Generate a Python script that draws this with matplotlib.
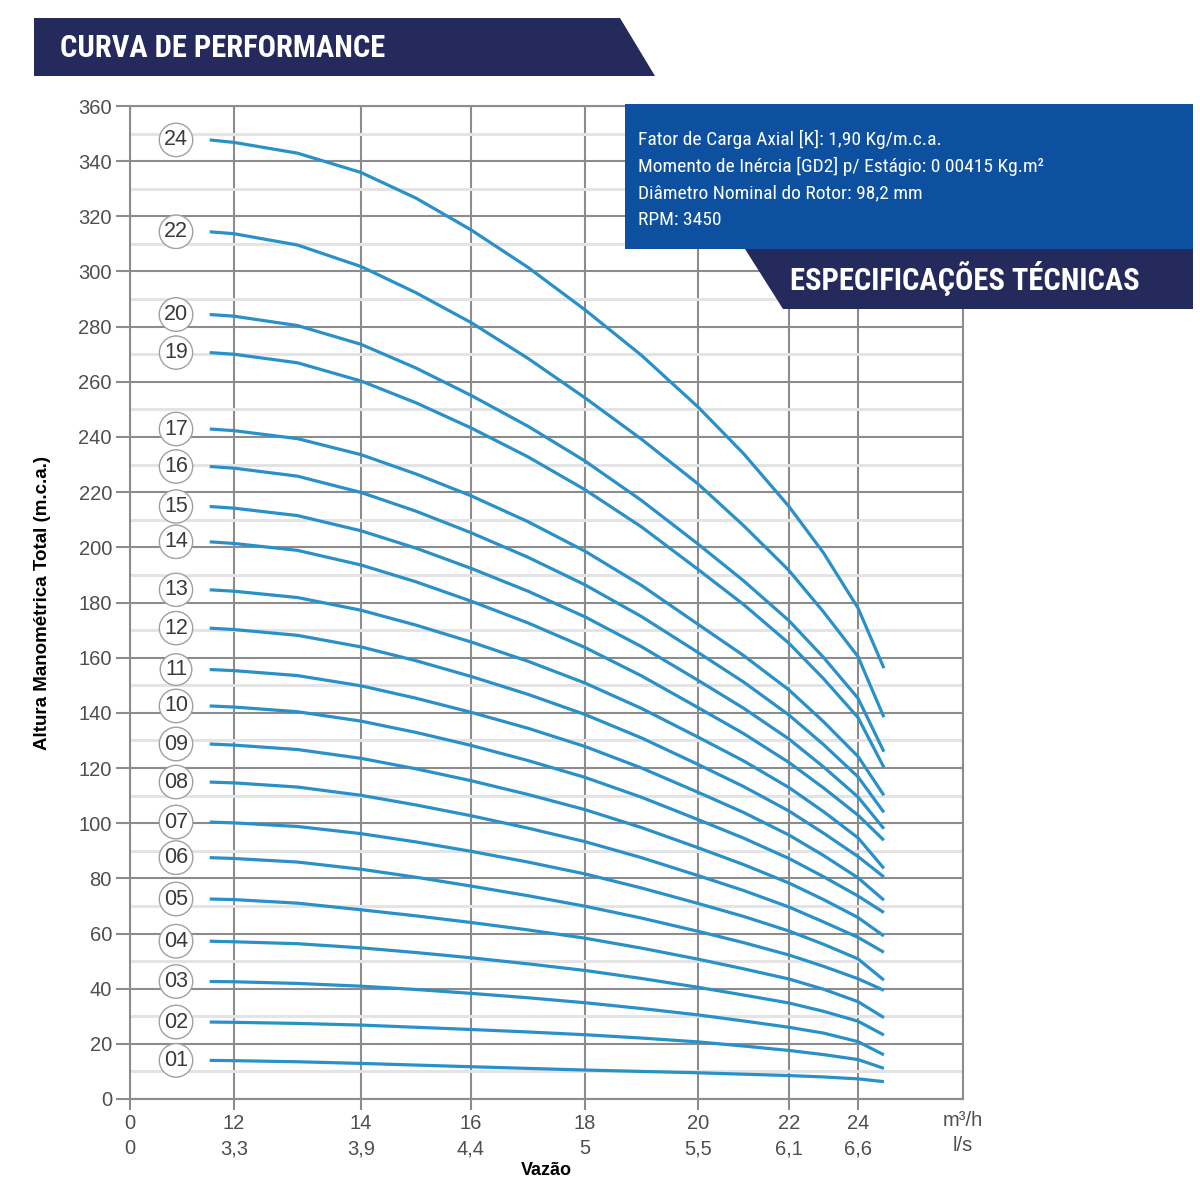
import numpy as np
import matplotlib
matplotlib.use("Agg")
import matplotlib.pyplot as plt
from matplotlib.patches import Polygon

# vazão (m3/h) at which each curve was read
flow = [9.2, 12, 13, 14, 15, 16, 17, 18, 19, 20, 21, 22, 23, 24, 24.75]

head_01 = [14.0, 13.9, 13.5, 12.9, 12.3, 11.7, 11.1, 10.5, 10.0, 9.5, 9.0, 8.5, 8.0, 7.3, 6.3]
head_02 = [27.9, 27.8, 27.4, 26.8, 26.0, 25.2, 24.3, 23.3, 22.1, 20.7, 19.2, 17.6, 16.1, 14.3, 11.1]
head_03 = [42.6, 42.5, 41.9, 40.9, 39.7, 38.3, 36.7, 34.9, 32.8, 30.5, 28.3, 26.0, 23.9, 20.8, 16.0]
head_04 = [57.2, 57.0, 56.3, 54.8, 53.1, 51.2, 49.0, 46.6, 43.7, 40.5, 37.7, 34.8, 31.8, 28.2, 23.2]
head_05 = [72.5, 72.3, 71.0, 68.6, 66.4, 64.0, 61.3, 58.3, 54.7, 50.7, 47.2, 43.5, 39.8, 35.3, 29.5]
head_06 = [87.5, 87.2, 85.9, 83.3, 80.4, 77.2, 73.7, 69.9, 65.6, 60.8, 56.7, 52.2, 48.1, 43.6, 39.4]
head_07 = [100.4, 100.1, 98.8, 96.2, 93.2, 89.8, 85.9, 81.6, 76.5, 70.9, 66.2, 60.9, 56.1, 50.8, 43.1]
head_08 = [114.9, 114.6, 113.1, 110.1, 106.6, 102.7, 98.2, 93.3, 87.5, 81.0, 75.6, 69.6, 64.2, 58.6, 53.2]
head_09 = [128.7, 128.3, 126.7, 123.5, 119.7, 115.4, 110.4, 104.9, 98.4, 91.1, 85.0, 78.3, 72.3, 65.8, 59.1]
head_10 = [142.5, 142.1, 140.4, 137.0, 132.9, 128.2, 122.7, 116.6, 109.4, 101.3, 94.6, 87.2, 80.6, 73.6, 67.6]
head_11 = [155.7, 155.3, 153.5, 149.8, 145.3, 140.2, 134.4, 127.8, 120.0, 111.2, 103.9, 95.7, 88.3, 80.2, 72.1]
head_12 = [170.7, 170.2, 168.1, 163.9, 158.9, 153.2, 146.7, 139.4, 130.9, 121.3, 113.3, 104.4, 96.4, 87.9, 80.5]
head_13 = [184.6, 184.1, 181.8, 177.2, 171.8, 165.7, 158.7, 150.8, 141.6, 131.2, 122.6, 112.9, 104.2, 94.7, 83.6]
head_14 = [202.0, 201.4, 198.9, 193.6, 187.5, 180.5, 172.6, 163.7, 153.4, 141.9, 132.5, 122.0, 112.8, 102.9, 93.8]
head_15 = [214.8, 214.2, 211.5, 206.0, 199.7, 192.4, 184.1, 174.8, 164.0, 151.8, 141.7, 130.5, 120.4, 109.5, 98.0]
head_16 = [229.3, 228.7, 225.8, 219.9, 213.1, 205.3, 196.4, 186.4, 174.9, 161.9, 151.2, 139.2, 128.5, 116.8, 103.9]
head_17 = [242.9, 242.3, 239.4, 233.6, 226.6, 218.7, 209.3, 198.6, 186.2, 172.1, 160.8, 148.3, 136.8, 124.2, 110.1]
head_19 = [270.6, 270.0, 266.9, 260.3, 252.4, 243.3, 232.8, 220.9, 207.4, 192.0, 179.3, 165.2, 152.4, 138.3, 120.2]
head_20 = [284.4, 283.8, 280.4, 273.6, 265.0, 255.1, 243.9, 231.3, 217.0, 201.2, 187.9, 173.4, 160.1, 145.3, 125.9]
head_22 = [314.4, 313.7, 309.6, 301.8, 292.3, 281.5, 268.5, 254.2, 239.2, 223.0, 207.9, 191.6, 176.6, 160.4, 138.4]
head_24 = [347.7, 346.8, 342.9, 335.9, 326.6, 315.1, 301.5, 286.1, 269.6, 250.9, 234.0, 214.8, 198.0, 178.0, 156.2]

stages = ["01", "02", "03", "04", "05", "06", "07", "08", "09", "10", "11",
          "12", "13", "14", "15", "16", "17", "19", "20", "22", "24"]
heads = [head_01, head_02, head_03, head_04, head_05, head_06, head_07,
         head_08, head_09, head_10, head_11, head_12, head_13, head_14,
         head_15, head_16, head_17, head_19, head_20, head_22, head_24]

x_ticks = [0, 12, 14, 16, 18, 20, 22, 24]
x_ls = ["0", "3,3", "3,9", "4,4", "5", "5,5", "6,1", "6,6"]
y_ticks = list(range(0, 361, 20))

specs = ["Fator de Carga Axial [K]: 1,90 Kg/m.c.a.",
         "Momento de Inércia [GD2] p/ Estágio: 0 00415 Kg.m²",
         "Diâmetro Nominal do Rotor: 98,2 mm",
         "RPM: 3450"]

# the flow axis is not linear in the original: piecewise spacing
scale_flow = [-100, 0, 12, 14, 16, 18, 20, 22, 24, 27.04, 200]
scale_pos = [-866.7, 0, 104, 231, 341, 455, 568, 659, 728, 833, 6800]


def fwd(v):
    return np.interp(v, scale_flow, scale_pos)


def inv(v):
    return np.interp(v, scale_pos, scale_flow)


line_c = "#2a90c8"
grid_c = "#8c8c8c"
txt_c = "#4f4f4f"
navy = "#252a5c"
blue = "#0d50a0"
narrow = ["Roboto Condensed", "Liberation Sans"]

fig = plt.figure(figsize=(12, 12), dpi=100)
ax = fig.add_axes([130 / 1200, 1 - 1099 / 1200, 833 / 1200, 993 / 1200])
ax.set_xscale("function", functions=(fwd, inv))
ax.set_xlim(0, 27.04)
ax.set_ylim(0, 360)

for st, h in zip(stages, heads):
    ax.plot(flow, h, color=line_c, lw=2.3, solid_capstyle="butt", zorder=3)
    ax.text(5.31, h[0], st, ha="center", va="center", fontsize=15.5,
            color="#3a3a3a", family="Liberation Sans", zorder=4,
            bbox=dict(boxstyle="circle,pad=0.22", fc="white", ec="#a0a0a0", lw=1.0))

ax.set_yticks(y_ticks)
ax.set_yticks(list(range(10, 360, 20)), minor=True)
ax.set_xticks(x_ticks)
ax.set_xticklabels([f"{a}\n{b}" for a, b in zip(x_ticks, x_ls)], linespacing=1.4)
ax.grid(True, axis="y", which="major", color=grid_c, lw=1.5, zorder=1)
ax.grid(True, axis="y", which="minor", color="#e4e4e4", lw=2.2, zorder=0)
ax.grid(True, axis="x", which="major", color=grid_c, lw=1.5, zorder=1)
ax.set_axisbelow(True)
ax.tick_params(axis="y", which="major", length=10, width=1.5, color=grid_c,
               labelsize=14.5, labelcolor=txt_c, pad=3)
ax.tick_params(axis="x", which="major", length=8, width=1.5, color=grid_c,
               labelsize=14.5, labelcolor=txt_c, pad=3)
ax.tick_params(which="minor", length=0)
for lab in ax.get_xticklabels() + ax.get_yticklabels():
    lab.set_family("Liberation Sans")
for sp in ax.spines.values():
    sp.set_color(grid_c)
    sp.set_linewidth(1.5)

ax.annotate("m³/h\nl/s", xy=(1, 0), xycoords="axes fraction", xytext=(0, -8.8),
            textcoords="offset points", ha="center", va="top", fontsize=14.5,
            color=txt_c, family="Liberation Sans", linespacing=1.4)
ax.set_xlabel("Vazão", fontsize=13, fontweight="bold", family="Liberation Sans", labelpad=3)
ax.set_ylabel("Altura Manométrica Total (m.c.a.)", fontsize=13.5, fontweight="bold",
              family="Liberation Sans", labelpad=20)


def px(x, y):
    return (x / 1200, 1 - y / 1200)


# header banners
fig.patches.append(Polygon([px(34, 18), px(620, 18), px(655, 76), px(34, 76)],
                           closed=True, fc=navy, ec="none", transform=fig.transFigure,
                           zorder=5))
fig.text(*px(60, 48), "CURVA DE PERFORMANCE", color="white", fontsize=22,
         fontweight="bold", family=narrow, ha="left", va="center", zorder=6)

fig.patches.append(Polygon([px(625, 104), px(1193, 104), px(1193, 249), px(625, 249)],
                           closed=True, fc=blue, ec="none", transform=fig.transFigure,
                           zorder=5))
for i, s in enumerate(specs):
    fig.text(*px(638, 139 + i * 27), s, color="white", fontsize=14,
             family=narrow, ha="left", va="center", zorder=6)

fig.patches.append(Polygon([px(745, 249), px(1193, 249), px(1193, 309), px(783, 309)],
                           closed=True, fc=navy, ec="none", transform=fig.transFigure,
                           zorder=5))
fig.text(*px(790, 279), "ESPECIFICAÇÕES TÉCNICAS", color="white", fontsize=22,
         fontweight="bold", family=narrow, ha="left", va="center", zorder=6)

fig.savefig("out.png", dpi=100, facecolor="white")
